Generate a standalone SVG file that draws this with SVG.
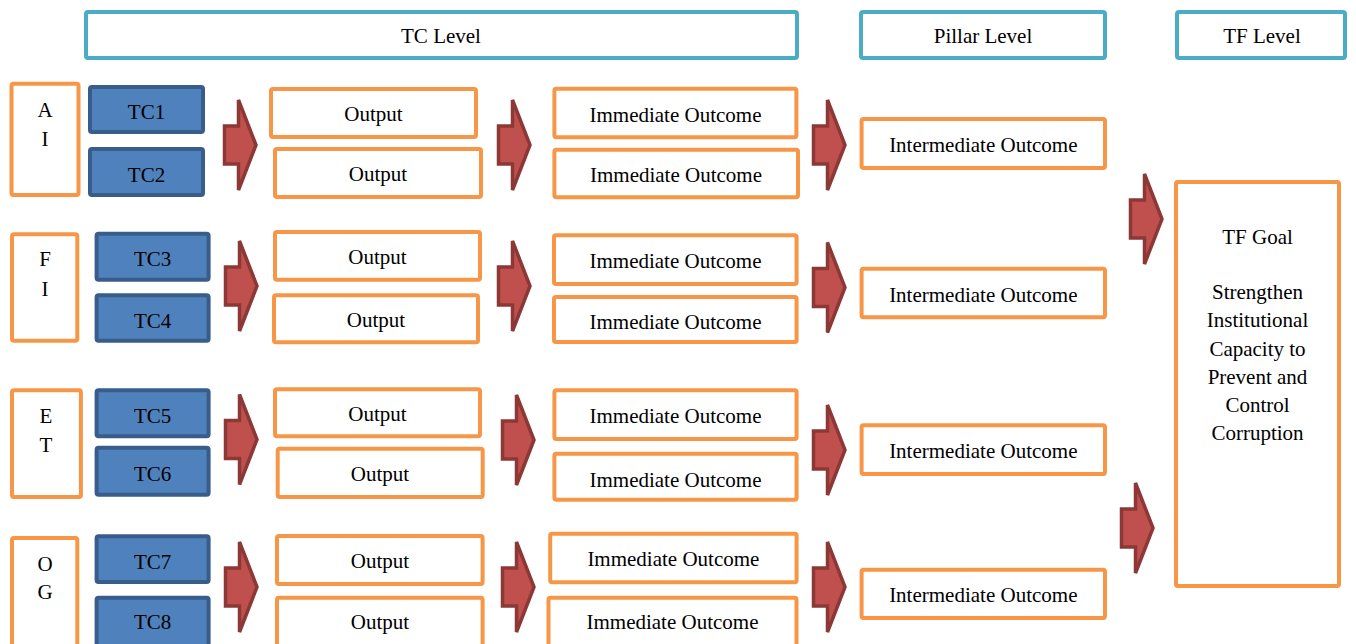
<svg xmlns="http://www.w3.org/2000/svg" xmlns:xlink="http://www.w3.org/1999/xlink" width="1356" height="644" viewBox="0 0 1356 644">
<defs>
<style>
text{font-family:"Liberation Serif","Times New Roman",serif;font-size:21px;fill:#000;text-anchor:middle}
.hdr{fill:#fff;stroke:#4BACC6;stroke-width:4}
.org{fill:#fff;stroke:#F79646;stroke-width:4}
.tc{fill:#4F81BD;stroke:#385D8A;stroke-width:4}
.arr{fill:#C0504D;stroke:#8C3836;stroke-width:3.5;stroke-linejoin:miter}
</style>
<path id="arrow" class="arr" d="M1.5,-19 H15.5 V-45 L33,0 L15.5,45 V19 H1.5 Z"/>
</defs>
<rect width="1356" height="644" fill="#fff"/>

<g id="hdr-tc"><rect class="hdr" x="86" y="12" width="711" height="46" rx="2"/><text x="441" y="43">TC Level</text></g>
<g id="hdr-pillar"><rect class="hdr" x="861" y="12" width="244" height="46" rx="2"/><text x="983" y="43">Pillar Level</text></g>
<g id="hdr-tf"><rect class="hdr" x="1177" y="12" width="168" height="46" rx="2"/><text x="1262" y="43">TF Level</text></g>

<g id="grp-ai"><rect class="org" x="11.5" y="83.7" width="67" height="111.3" rx="2"/><text x="45" y="117">A</text><text x="45" y="146">I</text></g>
<g id="grp-fi"><rect class="org" x="12" y="234.3" width="65.3" height="106.4" rx="2"/><text x="45" y="266">F</text><text x="45" y="295.5">I</text></g>
<g id="grp-et"><rect class="org" x="12" y="390.3" width="68.9" height="106.7" rx="2"/><text x="46" y="423">E</text><text x="46" y="452">T</text></g>
<g id="grp-og"><rect class="org" x="12" y="538" width="65.3" height="120" rx="2"/><text x="45" y="570.5">O</text><text x="45" y="599">G</text></g>

<g id="tc1"><rect class="tc" x="90" y="87" width="113" height="45" rx="2"/><text x="146.5" y="119">TC1</text></g>
<g id="tc2"><rect class="tc" x="90" y="149" width="113" height="46" rx="2"/><text x="146.5" y="181.5">TC2</text></g>
<g id="tc3"><rect class="tc" x="96.6" y="233.7" width="112" height="46" rx="2"/><text x="152.6" y="266">TC3</text></g>
<g id="tc4"><rect class="tc" x="96.6" y="295.3" width="112" height="45.4" rx="2"/><text x="152.6" y="327.5">TC4</text></g>
<g id="tc5"><rect class="tc" x="96.6" y="390.3" width="112" height="46" rx="2"/><text x="152.6" y="423">TC5</text></g>
<g id="tc6"><rect class="tc" x="96.6" y="447.7" width="112" height="47" rx="2"/><text x="152.6" y="480.5">TC6</text></g>
<g id="tc7"><rect class="tc" x="96.6" y="536.3" width="112" height="45.7" rx="2"/><text x="152.6" y="568.5">TC7</text></g>
<g id="tc8"><rect class="tc" x="96.6" y="597.7" width="112" height="60" rx="2"/><text x="152.6" y="629">TC8</text></g>

<g id="out1"><rect class="org" x="271" y="89" width="205" height="48" rx="2"/><text x="373.5" y="121">Output</text></g>
<g id="out2"><rect class="org" x="275" y="149" width="206" height="48" rx="2"/><text x="378" y="181">Output</text></g>
<g id="out3"><rect class="org" x="275" y="232" width="205" height="47.7" rx="2"/><text x="377.5" y="264">Output</text></g>
<g id="out4"><rect class="org" x="274" y="295.3" width="204" height="47" rx="2"/><text x="376" y="327">Output</text></g>
<g id="out5"><rect class="org" x="275" y="389.3" width="205" height="47" rx="2"/><text x="377.5" y="421">Output</text></g>
<g id="out6"><rect class="org" x="277.7" y="448.7" width="205" height="48.3" rx="2"/><text x="380" y="481">Output</text></g>
<g id="out7"><rect class="org" x="277" y="536" width="205.6" height="48" rx="2"/><text x="380" y="568">Output</text></g>
<g id="out8"><rect class="org" x="277" y="597.7" width="205.6" height="60" rx="2"/><text x="380" y="629">Output</text></g>

<g id="imm1"><rect class="org" x="554.4" y="88.7" width="242" height="48.6" rx="2"/><text x="675.5" y="121.5">Immediate Outcome</text></g>
<g id="imm2"><rect class="org" x="554.4" y="149.7" width="243.6" height="47.6" rx="2"/><text x="676" y="182">Immediate Outcome</text></g>
<g id="imm3"><rect class="org" x="554" y="235.3" width="242.6" height="48.7" rx="2"/><text x="675.5" y="268">Immediate Outcome</text></g>
<g id="imm4"><rect class="org" x="554" y="297" width="242.6" height="45" rx="2"/><text x="675.5" y="328.5">Immediate Outcome</text></g>
<g id="imm5"><rect class="org" x="554.4" y="390.3" width="242.2" height="48.7" rx="2"/><text x="675.5" y="423">Immediate Outcome</text></g>
<g id="imm6"><rect class="org" x="554.4" y="453.7" width="242.2" height="46" rx="2"/><text x="675.5" y="487">Immediate Outcome</text></g>
<g id="imm7"><rect class="org" x="550.2" y="533.7" width="246.4" height="48.6" rx="2"/><text x="673.4" y="566">Immediate Outcome</text></g>
<g id="imm8"><rect class="org" x="548.5" y="597.7" width="248" height="60" rx="2"/><text x="672.5" y="629">Immediate Outcome</text></g>

<g id="int1"><rect class="org" x="861.6" y="119" width="243.4" height="49" rx="2"/><text x="983.3" y="152">Intermediate Outcome</text></g>
<g id="int2"><rect class="org" x="861.6" y="268.7" width="243.4" height="48.6" rx="2"/><text x="983.3" y="301.5">Intermediate Outcome</text></g>
<g id="int3"><rect class="org" x="861.6" y="425.3" width="243.4" height="48.7" rx="2"/><text x="983.3" y="458">Intermediate Outcome</text></g>
<g id="int4"><rect class="org" x="861.6" y="569.7" width="243.4" height="48.3" rx="2"/><text x="983.3" y="602">Intermediate Outcome</text></g>

<g id="tf-goal"><rect class="org" x="1176" y="182" width="163" height="404" rx="2"/>
<text x="1257.5" y="244">TF Goal</text>
<text x="1257.5" y="299">Strengthen</text>
<text x="1257.5" y="327">Institutional</text>
<text x="1257.5" y="355.5">Capacity to</text>
<text x="1257.5" y="384">Prevent and</text>
<text x="1257.5" y="412">Control</text>
<text x="1257.5" y="440">Corruption</text>
</g>

<g id="connectors">
<use xlink:href="#arrow" transform="translate(223,145)"/>
<use xlink:href="#arrow" transform="translate(497,145)"/>
<use xlink:href="#arrow" transform="translate(812,145)"/>
<use xlink:href="#arrow" transform="translate(224,286)"/>
<use xlink:href="#arrow" transform="translate(497,286)"/>
<use xlink:href="#arrow" transform="translate(812,287.5)"/>
<use xlink:href="#arrow" transform="translate(224,439.5)"/>
<use xlink:href="#arrow" transform="translate(501,440)"/>
<use xlink:href="#arrow" transform="translate(812,450)"/>
<use xlink:href="#arrow" transform="translate(224,587)"/>
<use xlink:href="#arrow" transform="translate(501,587)"/>
<use xlink:href="#arrow" transform="translate(812,587)"/>
<use xlink:href="#arrow" transform="translate(1129,219)"/>
<use xlink:href="#arrow" transform="translate(1120,528)"/>
</g>
</svg>
